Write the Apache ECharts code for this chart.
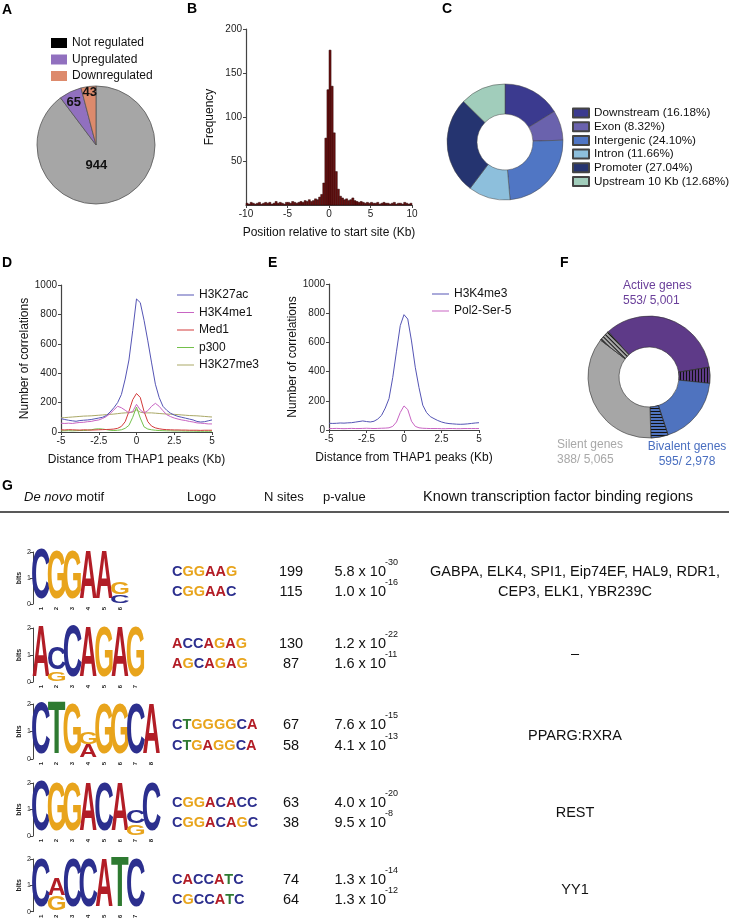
<!DOCTYPE html>
<html>
<head>
<meta charset="utf-8">
<script src="https://cdn.jsdelivr.net/npm/echarts@6/dist/echarts.min.js"></script>
<style>
html,body{margin:0;padding:0;background:#fff;}
#chart{width:729px;height:921px;}
</style>
</head>
<body>
<div id="chart"></div>
<script>
// ================= DATA =================
// Panel A
const aNames = ['Not regulated', 'Upregulated', 'Downregulated'];
const aValues = [944, 65, 43];

// Panel B (histogram, bin start in Kb, bin width 0.25 Kb)
const bBinStart = [-10,-9.75,-9.5,-9.25,-9,-8.75,-8.5,-8.25,-8,-7.75,-7.5,-7.25,-7,-6.75,-6.5,-6.25,-6,-5.75,-5.5,-5.25,-5,-4.75,-4.5,-4.25,-4,-3.75,-3.5,-3.25,-3,-2.75,-2.5,-2.25,-2,-1.75,-1.5,-1.25,-1,-0.75,-0.5,-0.25,0,0.25,0.5,0.75,1,1.25,1.5,1.75,2,2.25,2.5,2.75,3,3.25,3.5,3.75,4,4.25,4.5,4.75,5,5.25,5.5,5.75,6,6.25,6.5,6.75,7,7.25,7.5,7.75,8,8.25,8.5,8.75,9,9.25,9.5,9.75];
const bBinWidth = 0.25;
const bCounts = [2,1,3,2,1,2,3,1,2,3, 2,3,1,2,4,2,3,2,1,3, 3,2,4,3,2,3,4,3,5,4, 6,4,5,7,6,9,12,25,76,131, 176,135,82,38,18,10,8,6,7,5, 6,8,5,4,3,4,3,2,3,2, 3,2,2,3,1,2,3,2,2,1, 2,3,1,2,2,1,3,2,1,2];

// Panel C
const cNames = ['Downstream (16.18%)','Exon (8.32%)','Intergenic (24.10%)','Intron (11.66%)','Promoter (27.04%)','Upstream 10 Kb (12.68%)'];
const cValues = [16.18, 8.32, 24.10, 11.66, 27.04, 12.68];

// Panels D, E (distance in Kb)
const dX = [-5,-4.75,-4.5,-4.25,-4,-3.75,-3.5,-3.25,-3,-2.75,-2.5,-2.25,-2,-1.75,-1.5,-1.25,-1,-0.75,-0.5,-0.25,0,0.25,0.5,0.75,1,1.25,1.5,1.75,2,2.25,2.5,2.75,3,3.25,3.5,3.75,4,4.25,4.5,4.75,5];
const dNames = ['H3K27ac','H3K4me1','Med1','p300','H3K27me3'];
const dH3K27ac = [91,85,80,76,73,78,80,82,85,90,95,100,112,136,165,200,255,360,490,690,905,880,760,620,470,325,235,175,148,128,115,106,100,94,88,82,72,68,70,76,82];
const dH3K4me1 = [60,58,60,58,62,65,66,70,72,78,82,92,105,125,150,175,165,148,130,140,188,150,130,145,175,195,175,145,118,105,95,88,82,78,72,68,62,60,58,55,55];
const dMed1 = [15,14,16,15,14,13,15,14,13,14,15,16,17,18,20,25,38,70,140,220,262,235,140,70,40,28,22,18,16,15,14,14,13,13,12,12,12,11,12,12,12];
const dP300 = [8,8,9,8,9,10,10,12,15,20,22,20,16,12,10,12,15,25,45,100,170,95,35,20,15,12,10,9,8,8,7,7,7,6,6,6,5,5,5,5,5];
const dH3K27me3 = [96,98,100,102,104,106,108,109,110,112,114,116,118,120,122,125,128,130,132,135,150,135,130,130,130,128,126,124,122,121,120,118,116,114,112,111,110,108,106,104,102];
const eNames = ['H3K4me3','Pol2-Ser-5'];
const eH3K4me3 = [46,45,46,48,47,49,50,54,58,62,58,55,60,75,100,150,215,360,540,715,790,760,610,430,290,170,120,92,78,65,55,48,44,42,40,39,40,42,45,48,50];
const ePol2 = [10,10,11,10,9,10,11,10,10,11,12,11,10,11,12,13,15,25,55,120,165,140,60,25,15,12,11,10,10,10,9,9,10,10,9,9,10,10,10,10,10];

// Panel F
const fNames = ['Active genes','Bivalent genes','Silent genes'];
const fTotals = [5001, 2978, 5065];
const fBound = [553, 595, 388];

// Panel G
const gMotifs = [
  [[['C',1.98]],[['G',1.92]],[['G',1.92]],[['A',1.92]],[['A',1.92]],[['C',0.33],['G',0.48]]],
  [[['A',1.95]],[['G',0.37],['C',0.85]],[['C',1.98]],[['A',1.92]],[['G',1.92]],[['A',1.92]],[['G',1.92]]],
  [[['C',1.95]],[['T',1.98]],[['G',1.9]],[['A',0.5],['G',0.45]],[['G',1.9]],[['G',1.9]],[['C',1.9]],[['A',1.9]]],
  [[['C',1.95]],[['G',1.9]],[['G',1.9]],[['A',1.9]],[['C',1.9]],[['A',1.9]],[['G',0.42],['C',0.5]],[['C',1.92]]],
  [[['C',1.9]],[['G',0.55],['A',0.65]],[['C',1.9]],[['C',1.9]],[['A',1.9]],[['T',1.95]],[['C',1.9]]]
];
const gSeq = [['CGGAAG','CGGAAC'],['ACCAGAG','AGCAGAG'],['CTGGGGCA','CTGAGGCA'],['CGGACACC','CGGACAGC'],['CACCATC','CGCCATC']];
const gSites = [[199,115],[130,87],[67,58],[63,38],[74,64]];
const gPMant = [['5.8','1.0'],['1.2','1.6'],['7.6','4.1'],['4.0','9.5'],['1.3','1.3']];
const gPExp = [['-30','-16'],['-22','-11'],['-15','-13'],['-20','-8'],['-14','-12']];
const gKnown = [['GABPA, ELK4, SPI1, Eip74EF, HAL9, RDR1,','CEP3, ELK1, YBR239C'],['–'],['PPARG:RXRA'],['REST'],['YY1']];
const gHeader = ['De novo motif','Logo','N sites','p-value','Known transcription factor binding regions'];

// ================= STYLE / LAYOUT =================
const FONT = 'Liberation Sans, Arial, Helvetica, sans-serif';
const letterColor = {A:'#b21d26', C:'#2c2f8e', G:'#e8a41c', T:'#2e7a31'};
const letterInk = {A:0.70, C:0.64, G:0.68, T:0.60};
const aColors = ['#a6a6a6','#9170bf','#dd8a6c'];
const aLegendColors = ['#000000','#9170bf','#dd8a6c'];
const aLabelShift = [[-10,-10],[-8,-13],[-2,-20]];
const cColors = ['#3b3a8f','#6a62ad','#5076c4','#8dbfdc','#253470','#a1cdbb'];
const dColors = ['#5555b5','#c865c3','#d23a3a','#73c04a','#aaa866'];
const eColors = ['#5555b5','#c865c3'];
const fColors = ['#5e3a88','#4f73bf','#a6a6a6'];
const fTextColors = ['#6a3f9a','#4a6fc0','#a8a8a8'];
const fHatchRot = [Math.PI/2, 0, Math.PI/4];
const logoTop = [552, 628, 704, 783, 859];
const logoBottom = [604, 682, 759, 836, 915];
const logoColW = 15.8;
const rowY1 = [572, 644, 725, 803, 880];
const rowY2 = [592, 664, 746, 823, 900];
const headerX = [24,187,264,323,558];
const headerAlign = ['left','left','left','left','center'];
const headerSize = [13,13,13,13,14.5];

const axisStyle = (extra) => Object.assign({
  axisLine:{show:true, onZero:false, lineStyle:{color:'#444', width:1.2}},
  axisTick:{show:true, length:3, lineStyle:{color:'#444', width:1}},
  axisLabel:{fontSize:10, color:'#222', fontFamily:FONT, margin:4},
  splitLine:{show:false},
  nameTextStyle:{fontSize:12, color:'#111', fontFamily:FONT}
}, extra);
const plainNum = v => String(v);

// ================= BUILD =================
const grids = [
  {left:246, top:29, width:166, height:176},   // B
  {left:61, top:285, width:151, height:147},   // D
  {left:329, top:284, width:150, height:146}   // E
];
const xAxes = [
  axisStyle({gridIndex:0, type:'value', min:-10, max:10, interval:5, name:'Position relative to start site (Kb)', nameLocation:'middle', nameGap:22}),
  axisStyle({gridIndex:1, type:'value', min:-5, max:5, interval:2.5, name:'Distance from THAP1 peaks (Kb)', nameLocation:'middle', nameGap:22}),
  axisStyle({gridIndex:2, type:'value', min:-5, max:5, interval:2.5, name:'Distance from THAP1 peaks (Kb)', nameLocation:'middle', nameGap:22})
];
const yAxes = [
  axisStyle({gridIndex:0, type:'value', min:0, max:200, interval:50, name:'Frequency', nameLocation:'middle', nameGap:30, axisLabel:{fontSize:10, color:'#222', fontFamily:FONT, margin:4, showMinLabel:false}}),
  axisStyle({gridIndex:1, type:'value', min:0, max:1000, interval:200, name:'Number of correlations', nameLocation:'middle', nameGap:30, axisLabel:{fontSize:10, color:'#222', fontFamily:FONT, margin:4, formatter:plainNum}}),
  axisStyle({gridIndex:2, type:'value', min:0, max:1000, interval:200, name:'Number of correlations', nameLocation:'middle', nameGap:30, axisLabel:{fontSize:10, color:'#222', fontFamily:FONT, margin:4, formatter:plainNum}})
];

const series = [];

// A pie
series.push({
  type:'pie', center:[96,145], radius:[0,59], startAngle:90, clockwise:true,
  silent:true,
  itemStyle:{borderColor:'#555', borderWidth:0.8},
  label:{show:true, position:'inside', fontSize:13, fontWeight:'bold', color:'#111', fontFamily:FONT, formatter:'{c}'},
  labelLayout:(p)=>({dx:aLabelShift[p.dataIndex][0], dy:aLabelShift[p.dataIndex][1]}),
  data: aNames.map((n,i)=>({name:n, value:aValues[i], itemStyle:{color:aColors[i]}}))
});

// B histogram
series.push({
  type:'custom', xAxisIndex:0, yAxisIndex:0, silent:true,
  data: bBinStart.map((s,i)=>[s, s+bBinWidth, bCounts[i]]),
  encode:{x:[0,1], y:2},
  renderItem:(params, api)=>{
    const p0 = api.coord([api.value(0), 0]);
    const p1 = api.coord([api.value(1), api.value(2)]);
    return {type:'rect', shape:{x:p0[0], y:p1[1], width:p1[0]-p0[0], height:p0[1]-p1[1]},
      style:{fill:'#6a1010', stroke:'#2c0606', lineWidth:0.5}};
  }
});

// C donut
series.push({
  type:'pie', center:[505,142], radius:[28,58], startAngle:90, silent:true,
  label:{show:false}, labelLine:{show:false},
  itemStyle:{borderColor:'#444', borderWidth:0.5},
  data: cNames.map((n,i)=>({name:n, value:cValues[i], itemStyle:{color:cColors[i]}}))
});

// D lines
[dH3K27ac,dH3K4me1,dMed1,dP300,dH3K27me3].forEach((arr,i)=>{
  series.push({type:'line', name:dNames[i], xAxisIndex:1, yAxisIndex:1, symbol:'none', silent:true,
    lineStyle:{width:1, color:dColors[i]}, itemStyle:{color:dColors[i]},
    z: 10-i,
    data: dX.map((x,j)=>[x, arr[j]])});
});
// E lines
[eH3K4me3, ePol2].forEach((arr,i)=>{
  series.push({type:'line', name:eNames[i], xAxisIndex:2, yAxisIndex:2, symbol:'none', silent:true,
    lineStyle:{width:1, color:eColors[i]}, itemStyle:{color:eColors[i]},
    data: dX.map((x,j)=>[x, arr[j]])});
});

// F donut with hatched bound parts
const fData = [];
fNames.forEach((n,i)=>{
  fData.push({name:n, value:fTotals[i]-fBound[i], itemStyle:{color:fColors[i]}});
  fData.push({name:n+' (bound)', value:fBound[i], itemStyle:{color:fColors[i],
    decal:{symbol:'rect', symbolSize:1, color:'#111', dashArrayX:[1,0], dashArrayY:[1,1.6], rotation:fHatchRot[i]}}});
});
series.push({
  type:'pie', center:[649,377], radius:[30,61], startAngle:132, silent:true,
  label:{show:false}, labelLine:{show:false},
  itemStyle:{borderColor:'#333', borderWidth:0.6},
  data: fData
});

// G logos
gMotifs.forEach((motif, r)=>{
  const gi = grids.length;
  grids.push({left:33, top:logoTop[r], width:motif.length*logoColW, height:logoBottom[r]-logoTop[r]});
  xAxes.push({gridIndex:gi, type:'category', data:motif.map((_,k)=>String(k+1)),
    axisLine:{show:false}, axisTick:{show:false},
    axisLabel:{fontSize:6, color:'#222', rotate:90, margin:3, fontFamily:FONT, fontWeight:'bold'}});
  yAxes.push({gridIndex:gi, type:'value', min:0, max:2, interval:1,
    axisLine:{show:true, lineStyle:{color:'#444', width:1}},
    axisTick:{show:true, length:3, lineStyle:{color:'#444'}},
    axisLabel:{fontSize:7, color:'#222', margin:2, fontFamily:FONT},
    splitLine:{show:false},
    name:'bits', nameLocation:'middle', nameGap:10, nameTextStyle:{fontSize:7, color:'#222', fontFamily:FONT, fontWeight:'bold'}});
  const items = [];
  motif.forEach((stack,k)=>{
    let base = 0;
    stack.forEach(([L,h])=>{ items.push([k, base, base+h, L]); base += h; });
  });
  series.push({
    type:'custom', xAxisIndex:gi, yAxisIndex:gi, silent:true, clip:false,
    data: items, encode:{x:0, y:[1,2]},
    renderItem:(params, api)=>{
      const k = api.value(0);
      const pB = api.coord([k, api.value(1)]);
      const pT = api.coord([k, api.value(2)]);
      const bw = api.size([1,0])[0];
      const L = items[params.dataIndex][3];
      const fs = 100;
      const h = pB[1]-pT[1];
      const sy = h/(0.735*fs);
      const sx = (bw*1.1)/(letterInk[L]*fs);
      return {type:'text', x:pB[0], y:(pB[1]+pT[1])/2 + 0.01*fs*sy, scaleX:sx, scaleY:sy,
        style:{text:L, fontSize:fs, fontFamily:FONT, fontWeight:'bold', fill:letterColor[L], align:'center', verticalAlign:'middle'}};
    }
  });
});

// ---------- graphics (panel letters, F labels, table text) ----------
const graphics = [];
const addText = (x,y,text,style) => graphics.push({type:'text', x, y, silent:true,
  style:Object.assign({text, fontFamily:FONT, fontSize:12, fill:'#111', align:'left', verticalAlign:'middle'}, style)});
[['A',2,10],['B',187,9],['C',442,9],['D',2,263],['E',268,263],['F',560,263],['G',2,486]].forEach(([t,x,y])=>addText(x,y,t,{fontSize:14,fontWeight:'bold',fill:'#000'}));

// F labels
const fmt = v => v.toLocaleString('en-US');
const fLabelPos = [[623,286,'left'],[687,447,'center'],[557,445,'left']];
fNames.forEach((n,i)=>{
  const [x,y,al] = fLabelPos[i];
  addText(x,y,n,{fill:fTextColors[i], align:al, fontSize:12});
  addText(x,y+15,fBound[i]+'/ '+fmt(fTotals[i]),{fill:fTextColors[i], align:al, fontSize:12});
});

// Table header
gHeader.forEach((h,i)=>{
  if(i===0){
    graphics.push({type:'text', x:headerX[0], y:497, silent:true,
      style:{text:'{i|De novo} motif', fontFamily:FONT, fontSize:headerSize[0], fill:'#111', verticalAlign:'middle',
        rich:{i:{fontStyle:'italic', fontSize:headerSize[0], fontFamily:FONT, fill:'#111'}}}});
  } else addText(headerX[i],497,h,{fontSize:headerSize[i], align:headerAlign[i]});
});
graphics.push({type:'line', silent:true, shape:{x1:0,y1:512,x2:729,y2:512}, style:{stroke:'#222', lineWidth:1.5}});

const seqRich = {};
Object.keys(letterColor).forEach(L=>{ seqRich[L] = {fill:letterColor[L], fontWeight:'bold', fontSize:14.5, fontFamily:FONT}; });
gSeq.forEach((pair,r)=>{
  const ys = [rowY1[r], rowY2[r]];
  pair.forEach((s,j)=>{
    graphics.push({type:'text', x:172, y:ys[j], silent:true,
      style:{text:s.split('').map(c=>'{'+c+'|'+c+'}').join(''), rich:seqRich, verticalAlign:'middle', fontFamily:FONT, fontSize:14.5}});
    addText(291, ys[j], String(gSites[r][j]), {align:'center', fontSize:14.5});
    addText(386, ys[j], gPMant[r][j]+' x 10', {align:'right', fontSize:14.5});
    addText(385, ys[j]-9, gPExp[r][j], {align:'left', fontSize:9});
  });
  const kn = gKnown[r];
  if(kn.length===2){
    addText(575, ys[0], kn[0], {align:'center', fontSize:14.5});
    addText(575, ys[1], kn[1], {align:'center', fontSize:14.5});
  } else {
    addText(575, (ys[0]+ys[1])/2, kn[0], {align:'center', fontSize:14.5});
  }
});

const option = {
  backgroundColor:'#ffffff',
  animation:false,
  textStyle:{fontFamily:FONT},
  grid: grids,
  xAxis: xAxes,
  yAxis: yAxes,
  legend: [
    {orient:'vertical', left:46, top:32, icon:'rect', itemWidth:16, itemHeight:10, itemGap:4.5, selectedMode:false,
     textStyle:{fontSize:12, color:'#111', fontFamily:FONT, lineHeight:12}, 
     data: aNames.map((n,i)=>({name:n, itemStyle:{color:aLegendColors[i], borderWidth:0}}))},
    {orient:'vertical', left:567, top:102, icon:'rect', itemWidth:16, itemHeight:9, itemGap:1.7, selectedMode:false,
     textStyle:{fontSize:11.7, color:'#111', fontFamily:FONT, lineHeight:12}, data: cNames},
    {orient:'vertical', left:172, top:284, icon:'rect', itemWidth:17, itemHeight:1, itemGap:5.5, selectedMode:false,
     textStyle:{fontSize:12, color:'#111', fontFamily:FONT, lineHeight:12}, data: dNames},
    {orient:'vertical', left:427, top:283, icon:'rect', itemWidth:17, itemHeight:1, itemGap:5, selectedMode:false,
     textStyle:{fontSize:12, color:'#111', fontFamily:FONT, lineHeight:12}, data: eNames}
  ],
  series: series,
  graphic: graphics
};

const chart = echarts.init(document.getElementById('chart'), null, {renderer:'canvas', width:729, height:921});
chart.setOption(option);
</script>
</body>
</html>
